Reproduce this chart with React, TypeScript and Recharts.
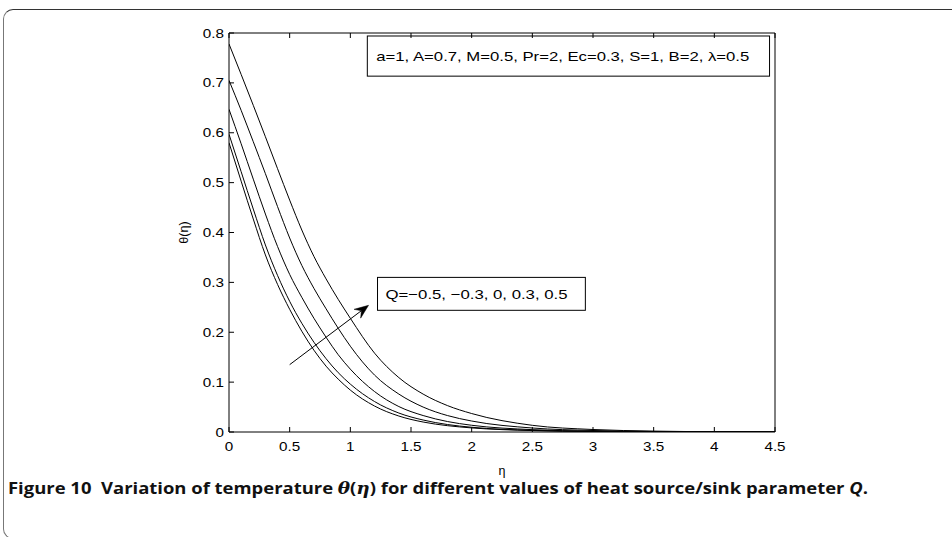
import React from 'react';
import { LineChart, Line, XAxis, YAxis, ReferenceArea, ReferenceLine } from 'recharts';

// eta grid
const ETA = [0, 0.1, 0.2, 0.3, 0.4, 0.5, 0.6, 0.7, 0.8, 0.9, 1.0, 1.2, 1.4, 1.6, 1.8, 2.0, 2.5, 3.0, 3.5, 4.0, 4.5];

// theta(eta) for Q = -0.5, -0.3, 0, 0.3, 0.5
const THETA_Q_M05 = [0.58, 0.503, 0.427, 0.355, 0.296, 0.246, 0.202, 0.164, 0.132, 0.106, 0.084, 0.052, 0.032, 0.02, 0.0127, 0.0082, 0.0028, 0.001, 0.0003, 0.0001, 0];
const THETA_Q_M03 = [0.597, 0.522, 0.447, 0.375, 0.314, 0.262, 0.218, 0.18, 0.147, 0.119, 0.096, 0.061, 0.038, 0.024, 0.015, 0.0095, 0.0033, 0.0011, 0.0004, 0.0001, 0];
const THETA_Q_0 = [0.647, 0.578, 0.507, 0.437, 0.372, 0.316, 0.27, 0.228, 0.19, 0.155, 0.126, 0.081, 0.051, 0.033, 0.021, 0.0135, 0.0047, 0.0016, 0.0006, 0.0002, 0.0001];
const THETA_Q_P03 = [0.705, 0.645, 0.582, 0.518, 0.452, 0.389, 0.334, 0.288, 0.247, 0.208, 0.172, 0.114, 0.076, 0.05, 0.033, 0.022, 0.008, 0.003, 0.001, 0.0004, 0.0001];
const THETA_Q_P05 = [0.778, 0.717, 0.655, 0.592, 0.528, 0.465, 0.405, 0.352, 0.307, 0.266, 0.228, 0.158, 0.109, 0.076, 0.053, 0.037, 0.0134, 0.005, 0.0018, 0.0006, 0.0002];

const SERIES_KEYS = ['qm05', 'qm03', 'q0', 'qp03', 'qp05'];
const SERIES_VALUES = [THETA_Q_M05, THETA_Q_M03, THETA_Q_0, THETA_Q_P03, THETA_Q_P05];

const X_TICKS = [0, 0.5, 1, 1.5, 2, 2.5, 3, 3.5, 4, 4.5];
const Y_TICKS = [0, 0.1, 0.2, 0.3, 0.4, 0.5, 0.6, 0.7, 0.8];

const PARAM_TEXT = 'a=1, A=0.7, M=0.5, Pr=2, Ec=0.3, S=1, B=2, \u03bb=0.5';
const Q_TEXT = 'Q=\u22120.5, \u22120.3, 0, 0.3, 0.5';

const data = ETA.map((eta, i) => {
  const row: Record<string, number> = { eta };
  SERIES_KEYS.forEach((k, s) => {
    row[k] = SERIES_VALUES[s][i];
  });
  return row;
});

// annotation placement (in data units)
const PARAM_BOX = { x1: 1.14, x2: 4.455, y1: 0.7135, y2: 0.794 };
const Q_BOX = { x1: 1.224, x2: 2.937, y1: 0.244, y2: 0.31 };
const ARROW = [{ x: 0.5, y: 0.135 }, { x: 1.15, y: 0.254 }];

const FONT = "'Liberation Sans', Arial, Helvetica, sans-serif";
const STRETCH = 1.22;
const TICK_LEN = 5;
const X_LABEL_GAP = 10;
const Y_LABEL_GAP = 5;

function XTick(props: any) {
  const { x, y, payload } = props;
  const axisY = y - X_LABEL_GAP;
  return (
    <g>
      <line x1={x} x2={x} y1={axisY} y2={axisY - TICK_LEN} stroke="#000" strokeWidth={1} />
      <g transform={`translate(${x},${y}) scale(${STRETCH},1)`}>
        <text x={0} y={0} dy="0.72em" textAnchor="middle" fontFamily={FONT} fontSize={12.5} fill="#000">
          {String(payload.value)}
        </text>
      </g>
    </g>
  );
}

function YTick(props: any) {
  const { x, y, payload } = props;
  const axisX = x + Y_LABEL_GAP;
  return (
    <g>
      <line x1={axisX} x2={axisX + TICK_LEN} y1={y} y2={y} stroke="#000" strokeWidth={1} />
      <g transform={`translate(${x},${y}) scale(${STRETCH},1)`}>
        <text x={0} y={0} dy="0.36em" textAnchor="end" fontFamily={FONT} fontSize={12.5} fill="#000">
          {String(payload.value)}
        </text>
      </g>
    </g>
  );
}

function TopTick(props: any) {
  const { x, y } = props;
  return <line x1={x} x2={x} y1={y} y2={y + TICK_LEN} stroke="#000" strokeWidth={1} />;
}

function RightTick(props: any) {
  const { x, y } = props;
  return <line x1={x} x2={x - TICK_LEN} y1={y} y2={y} stroke="#000" strokeWidth={1} />;
}

function makeBox(text: string, textWidth: number, fontSize: number, padLeft: number) {
  return (props: any) => {
    const { x, y, width, height } = props;
    return (
      <g>
        <rect x={x} y={y} width={width} height={height} fill="#fff" stroke="#000" strokeWidth={1} />
        <text
          x={x + padLeft}
          y={y + height / 2}
          dy="0.36em"
          fontFamily={FONT}
          fontSize={fontSize}
          fill="#000"
          textLength={textWidth}
          lengthAdjust="spacingAndGlyphs"
        >
          {text}
        </text>
      </g>
    );
  };
}

function ArrowShape(props: any) {
  const { x1, y1, x2, y2 } = props;
  const ang = Math.atan2(y2 - y1, x2 - x1);
  const len = 14;
  const half = 5.5;
  const notch = 9;
  const ux = Math.cos(ang);
  const uy = Math.sin(ang);
  const px = -uy;
  const py = ux;
  const bx = x2 - ux * len;
  const by = y2 - uy * len;
  const nx = x2 - ux * notch;
  const ny = y2 - uy * notch;
  const pts = [
    [x2, y2],
    [bx + px * half, by + py * half],
    [nx, ny],
    [bx - px * half, by - py * half],
  ]
    .map((p) => p.join(','))
    .join(' ');
  return (
    <g>
      <line x1={x1} y1={y1} x2={nx} y2={ny} stroke="#000" strokeWidth={1} />
      <polygon points={pts} fill="#000" stroke="#000" strokeWidth={0.5} />
    </g>
  );
}

export default function App() {
  return (
    <div style={{ position: 'absolute', left: 0, top: 0, width: 952, height: 537, overflow: 'hidden', background: '#fff' }}>
      <div
        style={{
          position: 'absolute',
          left: 3,
          top: 9,
          width: 1100,
          height: 530,
          boxSizing: 'border-box',
          borderTop: '1.5px solid #333',
          borderLeft: '1px solid #777',
          borderBottom: '1px solid #777',
          borderTopLeftRadius: 10,
          borderBottomLeftRadius: 10,
        }}
      />
      <div style={{ position: 'absolute', left: 0, top: 0 }}>
        <LineChart width={952} height={537} data={data} margin={{ top: 32, right: 176, bottom: 60, left: 138 }}>
          <XAxis
            dataKey="eta"
            type="number"
            domain={[0, 4.5]}
            ticks={X_TICKS}
            interval={0}
            allowDataOverflow
            height={45}
            axisLine={{ stroke: '#000', strokeWidth: 1 }}
            tickLine={false}
            tickSize={0}
            tickMargin={X_LABEL_GAP}
            tick={<XTick />}
            label={{ value: '\u03b7', position: 'insideBottom', offset: 2, fontSize: 12.5, fontFamily: FONT, fill: '#000' }}
          />
          <XAxis
            xAxisId="top"
            orientation="top"
            dataKey="eta"
            type="number"
            domain={[0, 4.5]}
            ticks={X_TICKS}
            interval={0}
            height={1}
            axisLine={{ stroke: '#000', strokeWidth: 1 }}
            tickLine={false}
            tickSize={0}
            tickMargin={0}
            tick={<TopTick />}
          />
          <YAxis
            type="number"
            domain={[0, 0.8]}
            ticks={Y_TICKS}
            interval={0}
            allowDataOverflow
            width={91}
            axisLine={{ stroke: '#000', strokeWidth: 1 }}
            tickLine={false}
            tickSize={0}
            tickMargin={Y_LABEL_GAP}
            tick={<YTick />}
            label={{ value: '\u03b8(\u03b7)', angle: -90, position: 'center', fontSize: 12.5, fontFamily: FONT, fill: '#000' }}
          />
          <YAxis
            yAxisId="right"
            orientation="right"
            type="number"
            domain={[0, 0.8]}
            ticks={Y_TICKS}
            interval={0}
            width={1}
            axisLine={{ stroke: '#000', strokeWidth: 1 }}
            tickLine={false}
            tickSize={0}
            tickMargin={0}
            tick={<RightTick />}
          />
          {SERIES_KEYS.map((k) => (
            <Line
              key={k}
              dataKey={k}
              type="monotone"
              stroke="#000"
              strokeWidth={1}
              dot={false}
              activeDot={false}
              isAnimationActive={false}
            />
          ))}
          <ReferenceArea
            x1={PARAM_BOX.x1}
            x2={PARAM_BOX.x2}
            y1={PARAM_BOX.y1}
            y2={PARAM_BOX.y2}
            ifOverflow="visible"
            shape={makeBox(PARAM_TEXT, 373, 13, 9)}
          />
          <ReferenceArea
            x1={Q_BOX.x1}
            x2={Q_BOX.x2}
            y1={Q_BOX.y1}
            y2={Q_BOX.y2}
            ifOverflow="visible"
            shape={makeBox(Q_TEXT, 182, 13.5, 8)}
          />
          <ReferenceLine segment={ARROW} ifOverflow="visible" shape={ArrowShape} />
        </LineChart>
      </div>
      <svg style={{ position: 'absolute', left: 0, top: 0 }} width={952} height={537}>
        <text
          x={8}
          y={494}
          fontFamily="'Open Sans', 'Noto Sans', sans-serif"
          fontWeight="bold"
          fontSize={16}
          fill="#111"
          textLength={860}
          lengthAdjust="spacingAndGlyphs"
        >
          {'Figure 10\u00a0\u00a0Variation of temperature '}
          <tspan fontFamily="'DejaVu Serif', serif" fontStyle="italic">{'\u03b8'}</tspan>
          {'('}
          <tspan fontFamily="'DejaVu Serif', serif" fontStyle="italic">{'\u03b7'}</tspan>
          {') for different values of heat source/sink parameter '}
          <tspan fontStyle="italic">Q</tspan>
          {'.'}
        </text>
      </svg>
    </div>
  );
}
